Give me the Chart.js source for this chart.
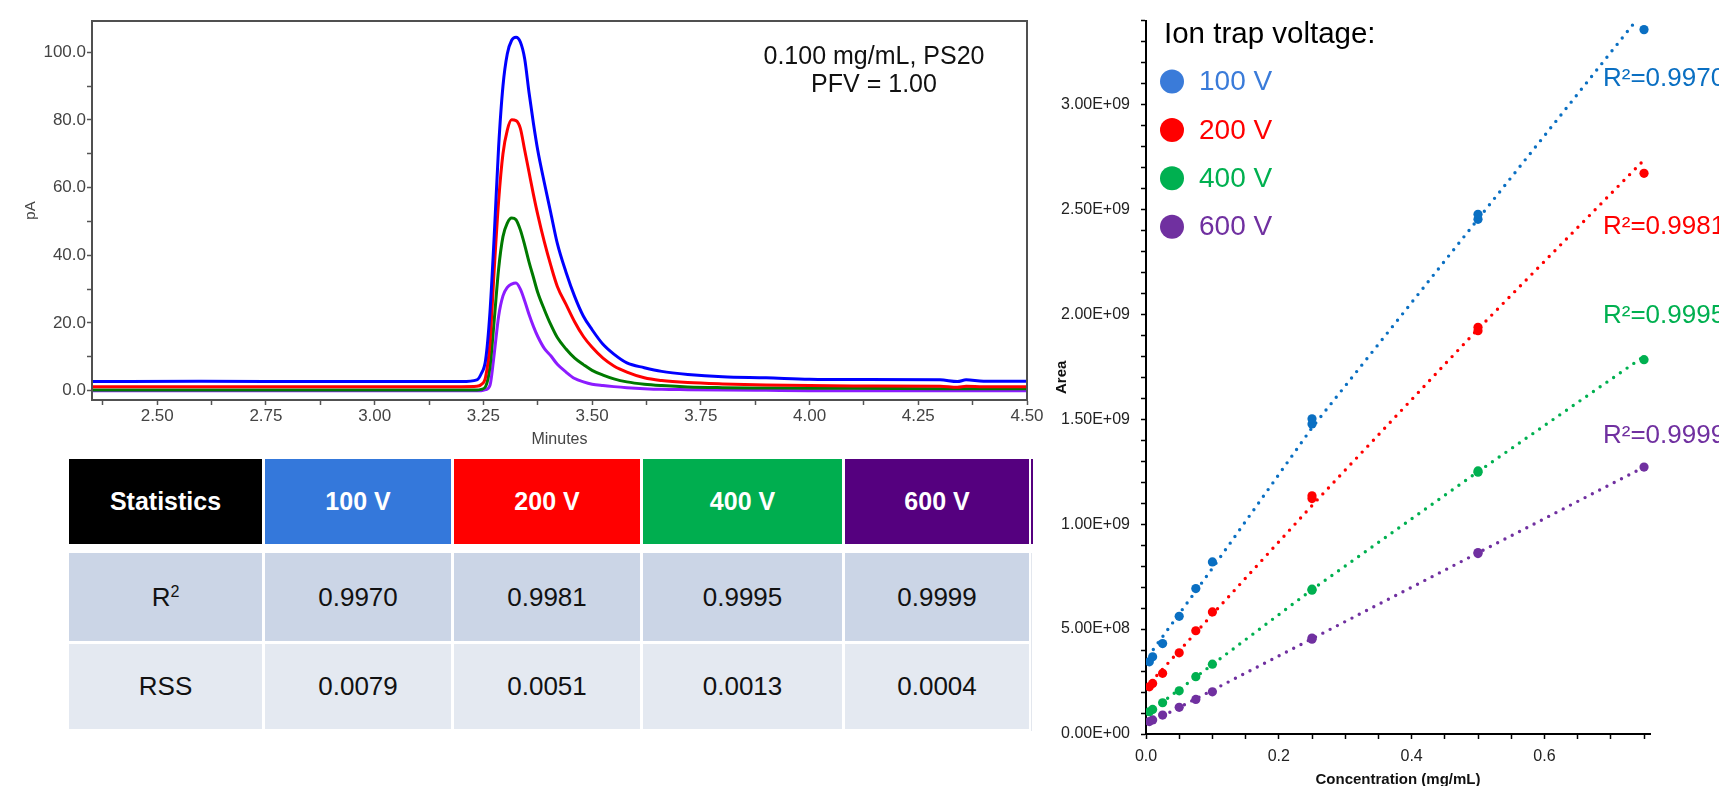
<!DOCTYPE html>
<html>
<head>
<meta charset="utf-8">
<script src="https://cdn.jsdelivr.net/npm/chart.js@4.4.0/dist/chart.umd.min.js"></script>
<style>
html,body{margin:0;padding:0;background:#fff;width:1719px;height:786px;overflow:hidden;font-family:"Liberation Sans",Arial,sans-serif;}
canvas{position:absolute;top:0;}
#c1{left:0;}
#c2{left:1040px;}
.cell{position:absolute;display:flex;align-items:center;justify-content:center;box-sizing:border-box;}
.cell sup{font-size:0.62em;position:relative;top:-0.35em;vertical-align:top;line-height:1;}
</style>
</head>
<body>
<canvas id="c1" width="1050" height="450"></canvas>
<canvas id="c2" width="679" height="786"></canvas>
<div id="tbl"></div>
<script>
// ---------------- DATA ----------------
// Chromatogram (pA vs minutes)
const chromTimes = [2.35, 2.60, 2.90, 3.20, 3.235, 3.245, 3.255, 3.265, 3.275, 3.285, 3.295, 3.305, 3.315, 3.325, 3.335, 3.345, 3.355, 3.365, 3.375, 3.39, 3.405, 3.42, 3.44, 3.46, 3.48, 3.50, 3.525, 3.55, 3.58, 3.62, 3.66, 3.72, 3.80, 3.90, 4.00, 4.10, 4.30, 4.34, 4.36, 4.40, 4.50];
const chrom100V = [2.7, 2.8, 2.7, 2.7, 3.2, 5.0, 9.0, 23, 46, 72, 90, 99.5, 103.5, 104.4, 103, 98, 88, 79, 71, 61.5, 52.5, 43.5, 35, 27.8, 22, 18, 13.7, 10.8, 8.2, 6.8, 5.7, 4.8, 4.1, 3.8, 3.4, 3.3, 3.2, 2.7, 3.2, 2.8, 2.8];
const chrom200V = [1.2, 1.2, 1.2, 1.2, 1.3, 1.8, 4.0, 14, 36, 56, 70, 77, 80, 79.8, 77.5, 71, 64.5, 58, 52, 44, 37, 30.8, 25.5, 20.3, 16, 12.8, 9.6, 7.3, 5.5, 3.8, 3.0, 2.4, 2.0, 1.7, 1.5, 1.4, 1.3, 1.0, 1.3, 1.2, 1.2];
const chrom400V = [0.2, 0.2, 0.2, 0.2, 0.2, 0.4, 1.2, 7, 21, 36, 45.5, 49.5, 51, 50.5, 47.5, 43, 38, 33.5, 29, 24, 19.5, 15.7, 12.3, 9.6, 7.7, 6.0, 4.6, 3.5, 2.6, 1.9, 1.5, 1.1, 0.9, 0.8, 0.7, 0.7, 0.6, 0.6, 0.6, 0.6, 0.6];
const chrom600V = [0, 0, 0, 0, 0, 0, 0.3, 1.5, 11, 22, 28, 30.5, 31.5, 31.8, 30, 26.5, 22.5, 19, 16, 12.5, 10.3, 7.8, 5.5, 3.6, 2.6, 1.9, 1.5, 1.2, 0.9, 0.6, 0.4, 0.3, 0.2, 0.1, 0, 0, 0, 0, 0, 0, 0];
const chromMajorXTicks = [2.50, 2.75, 3.00, 3.25, 3.50, 3.75, 4.00, 4.25, 4.50];
const chromMinorXTicks = [2.375, 2.625, 2.875, 3.125, 3.375, 3.625, 3.875, 4.125, 4.375];
const chromMajorYTicks = [0, 20, 40, 60, 80, 100];
const chromMinorYTicks = [10, 30, 50, 70, 90];
const chromNote = ['0.100 mg/mL, PS20', 'PFV = 1.00'];

// Calibration (Area vs concentration)
const voltageLabels = ['100 V', '200 V', '400 V', '600 V'];
const concentrations = [0.005, 0.01, 0.025, 0.05, 0.075, 0.1, 0.25, 0.25, 0.5, 0.5, 0.75];
const area100V = [3.44e8, 3.68e8, 4.31e8, 5.61e8, 6.93e8, 8.20e8, 1.478e9, 1.502e9, 2.453e9, 2.477e9, 3.357e9];
const area200V = [2.25e8, 2.41e8, 2.89e8, 3.87e8, 4.92e8, 5.82e8, 1.122e9, 1.135e9, 1.922e9, 1.938e9, 2.672e9];
const area400V = [1.06e8, 1.17e8, 1.49e8, 2.06e8, 2.73e8, 3.33e8, 6.85e8, 6.90e8, 1.248e9, 1.254e9, 1.784e9];
const area600V = [5.9e7, 6.7e7, 9.0e7, 1.27e8, 1.65e8, 2.01e8, 4.52e8, 4.57e8, 8.60e8, 8.65e8, 1.272e9];
// trend lines
const trend100Vx = [0.011, 0.1, 0.25, 0.7355];
const trend100Vy = [4.03e8, 7.9e8, 1.46e9, 3.39e9];
const trend200Vx = [0.008, 0.1, 0.257, 0.5, 0.746];
const trend200Vy = [2.5e8, 5.7e8, 1.113e9, 1.93e9, 2.723e9];
const trend400Vx = [0.003, 0.25, 0.5, 0.75];
const trend400Vy = [1.0e8, 6.88e8, 1.25e9, 1.80e9];
const trend600Vx = [0.003, 0.75];
const trend600Vy = [5.0e7, 1.272e9];
const concLabelTicks = [0.0, 0.2, 0.4, 0.6];
const areaLabelTicks = [0, 5e8, 1e9, 1.5e9, 2e9, 2.5e9, 3e9];

// Statistics table
const statHeader = 'Statistics';
const r2Values = ['0.9970', '0.9981', '0.9995', '0.9999'];
const rssValues = ['0.0079', '0.0051', '0.0013', '0.0004'];

// ---------------- STYLE ----------------
Chart.defaults.font.family = '"Liberation Sans", Arial, sans-serif';
const chromColors = ['#0000ff', '#ff0000', '#007a00', '#8c1cff'];
const pointColors = ['#0a6fc2', '#ff0000', '#00b050', '#7030a0'];
const legendColors = ['#3a7bd9', '#ff0000', '#00b050', '#7030a0'];
const headerColors = ['#000000', '#3478db', '#ff0000', '#00ae4f', '#55007f'];

// ---------------- CHROMATOGRAM ----------------
const chromValues = [chrom100V, chrom200V, chrom400V, chrom600V];
const chromTickSet = (a, b) => a.concat(b).sort((p, q) => p - q);

const framePlugin = {
  id: 'frame',
  afterDraw(chart) {
    const {ctx, chartArea: a} = chart;
    ctx.save();
    ctx.strokeStyle = '#505050';
    ctx.lineWidth = 2;
    ctx.strokeRect(a.left, a.top, a.right - a.left, a.bottom - a.top);
    ctx.fillStyle = '#111';
    ctx.font = '25px "Liberation Sans", Arial, sans-serif';
    ctx.textAlign = 'center';
    ctx.textBaseline = 'middle';
    ctx.fillText(chromNote[0], 874, 57);
    ctx.fillText(chromNote[1], 874, 85);
    ctx.restore();
  }
};

new Chart(document.getElementById('c1'), {
  type: 'line',
  data: {
    datasets: chromValues.map((vals, i) => ({
      label: voltageLabels[i],
      data: chromTimes.map((t, k) => ({x: t, y: vals[k]})),
      borderColor: chromColors[i],
      borderWidth: 3,
      pointRadius: 0,
      cubicInterpolationMode: 'monotone',
      fill: false,
      order: i
    }))
  },
  options: {
    responsive: false, animation: false, devicePixelRatio: 1,
    layout: {padding: {top: 21, right: 23, left: 0, bottom: 0}},
    plugins: {legend: {display: false}, tooltip: {enabled: false}},
    scales: {
      x: {
        type: 'linear', min: 2.35, max: 4.5,
        afterBuildTicks: s => { s.ticks = chromTickSet(chromMajorXTicks, chromMinorXTicks).map(v => ({value: v})); },
        afterFit: s => { s.height = 50; },
        ticks: {
          autoSkip: false, maxRotation: 0, padding: 1, color: '#444', font: {size: 17},
          callback: v => chromMajorXTicks.some(m => Math.abs(m - v) < 1e-6) ? v.toFixed(2) : ''
        },
        grid: {drawOnChartArea: false, tickLength: 5, color: '#555', tickWidth: 1.5},
        border: {color: '#505050', width: 2},
        title: {display: true, text: 'Minutes', color: '#444', font: {size: 16}, padding: {top: 0, bottom: 1}}
      },
      y: {
        min: -2.75, max: 109.2,
        afterBuildTicks: s => { s.ticks = chromTickSet(chromMajorYTicks, chromMinorYTicks).map(v => ({value: v})); },
        afterFit: s => { s.width = 92; },
        ticks: {
          autoSkip: false, padding: 1, color: '#444', font: {size: 17},
          callback: v => chromMajorYTicks.includes(v) ? v.toFixed(1) : ''
        },
        grid: {drawOnChartArea: false, tickLength: 5, color: '#555', tickWidth: 1.5},
        border: {color: '#505050', width: 2},
        title: {display: true, text: 'pA', color: '#444', font: {size: 15}, padding: {top: 22, bottom: 0}}
      }
    }
  },
  plugins: [framePlugin]
});

// ---------------- CALIBRATION SCATTER ----------------
const areaSeries = [area100V, area200V, area400V, area600V];
const trendX = [trend100Vx, trend200Vx, trend400Vx, trend600Vx];
const trendY = [trend100Vy, trend200Vy, trend400Vy, trend600Vy];
const sci = v => {
  if (v === 0) return '0.00E+00';
  const e = Math.floor(Math.log10(v) + 1e-9);
  const m = v / Math.pow(10, e);
  return m.toFixed(2) + 'E+' + String(e).padStart(2, '0');
};
const concTickValues = [];
for (let i = 0; i <= 15; i++) concTickValues.push(+(i * 0.05).toFixed(2));
const areaTickValues = [];
for (let i = 0; i <= 34; i++) areaTickValues.push(i * 1e8);

const legendPlugin = {
  id: 'calLegend',
  afterDraw(chart) {
    const ctx = chart.ctx;
    ctx.save();
    ctx.textBaseline = 'middle';
    ctx.textAlign = 'left';
    ctx.fillStyle = '#000';
    ctx.font = '29.5px "Liberation Sans", Arial, sans-serif';
    ctx.fillText('Ion trap voltage:', 124, 35);
    voltageLabels.forEach((lab, i) => {
      const y = 81.5 + i * 48.4;
      ctx.fillStyle = legendColors[i];
      ctx.beginPath();
      ctx.arc(132, y, 12, 0, Math.PI * 2);
      ctx.fill();
      ctx.font = '28px "Liberation Sans", Arial, sans-serif';
      ctx.fillText(lab, 159, y + 1);
    });
    const r2y = [79, 227, 316, 436];
    r2Values.forEach((v, i) => {
      ctx.fillStyle = pointColors[i];
      ctx.font = '26px "Liberation Sans", Arial, sans-serif';
      ctx.fillText('R\u00B2=' + v, 563, r2y[i]);
    });
    ctx.restore();
  }
};

const calDatasets = [];
trendX.forEach((xs, i) => {
  calDatasets.push({
    label: voltageLabels[i] + ' fit',
    data: xs.map((x, k) => ({x: x, y: trendY[i][k]})),
    showLine: true, pointRadius: 0,
    borderColor: pointColors[i], borderWidth: 3.4,
    borderDash: [0, 8.2], borderCapStyle: 'round',
    order: 10 + i
  });
});
areaSeries.forEach((vals, i) => {
  calDatasets.push({
    label: voltageLabels[i],
    data: concentrations.map((c, k) => ({x: c, y: vals[k]})),
    showLine: false, pointRadius: 4.6, pointBorderWidth: 0,
    backgroundColor: pointColors[i], borderColor: pointColors[i],
    order: i
  });
});

new Chart(document.getElementById('c2'), {
  type: 'scatter',
  data: {datasets: calDatasets},
  options: {
    responsive: false, animation: false, devicePixelRatio: 1,
    layout: {padding: {top: 19, right: 69, left: 0, bottom: 0}},
    plugins: {legend: {display: false}, tooltip: {enabled: false}},
    scales: {
      x: {
        type: 'linear', min: 0, max: 0.759,
        afterBuildTicks: s => { s.ticks = concTickValues.map(v => ({value: v})); },
        afterFit: s => { s.height = 52; },
        ticks: {
          autoSkip: false, maxRotation: 0, padding: 8, color: '#222', font: {size: 16},
          callback: v => concLabelTicks.some(m => Math.abs(m - v) < 1e-6) ? v.toFixed(1) : ''
        },
        grid: {drawOnChartArea: false, tickLength: 5, color: '#000', tickWidth: 1.5},
        border: {color: '#000', width: 2},
        title: {display: true, text: 'Concentration (mg/mL)', color: '#111', font: {size: 15, weight: 'bold'}, padding: {top: 0, bottom: -3}}
      },
      y: {
        type: 'linear', min: 0, max: 3.4e9,
        afterBuildTicks: s => { s.ticks = areaTickValues.map(v => ({value: v})); },
        afterFit: s => { s.width = 106; },
        ticks: {
          autoSkip: false, padding: 11, color: '#222', font: {size: 16},
          callback: v => areaLabelTicks.some(m => Math.abs(m - v) < 1) ? sci(v) : ''
        },
        grid: {drawOnChartArea: false, tickLength: 5, color: '#000', tickWidth: 1.5},
        border: {color: '#000', width: 2},
        title: {display: true, text: 'Area', color: '#111', font: {size: 15, weight: 'bold'}, padding: {top: 13, bottom: 0}}
      }
    }
  },
  plugins: [legendPlugin]
});

// ---------------- TABLE ----------------
const colLefts = [69, 265, 454, 643, 845];
const colWidths = [193, 186, 186, 199, 184];
const rowTops = [459, 553, 644];
const rowHeights = [85, 88, 85];
const rowBgs = [null, '#cbd5e6', '#e4e9f1'];
const tbl = document.getElementById('tbl');
const rows = [
  [statHeader].concat(voltageLabels),
  ['R<sup>2</sup>'].concat(r2Values),
  ['RSS'].concat(rssValues)
];
rows.forEach((row, r) => {
  row.forEach((txt, c) => {
    const d = document.createElement('div');
    d.className = 'cell';
    d.style.left = colLefts[c] + 'px';
    d.style.top = rowTops[r] + 'px';
    d.style.width = colWidths[c] + 'px';
    d.style.height = rowHeights[r] + 'px';
    if (r === 0) {
      d.style.background = headerColors[c];
      d.style.color = '#fff';
      d.style.fontWeight = 'bold';
      d.style.fontSize = '25px';
    } else {
      d.style.background = rowBgs[r];
      d.style.color = '#111';
      d.style.fontSize = '26px';
    }
    d.innerHTML = txt;
    tbl.appendChild(d);
  });
});
// thin right border lines of the table
const edge1 = document.createElement('div');
edge1.style.cssText = 'position:absolute;left:1031px;top:459px;width:2px;height:85px;background:#55007f;';
tbl.appendChild(edge1);
const edge2 = document.createElement('div');
edge2.style.cssText = 'position:absolute;left:1031px;top:553px;width:1px;height:178px;background:#e3e7ee;';
tbl.appendChild(edge2);
</script>
</body>
</html>
